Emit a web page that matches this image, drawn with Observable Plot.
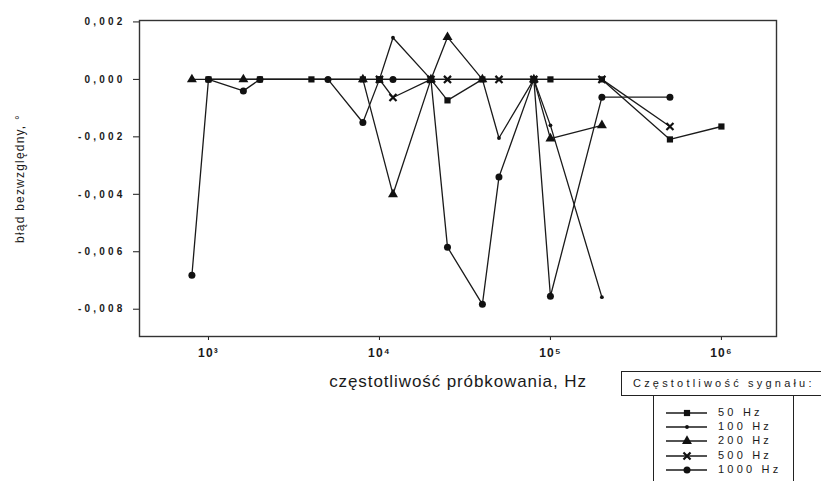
<!DOCTYPE html>
<html><head><meta charset="utf-8">
<script src="https://cdn.jsdelivr.net/npm/d3@7"></script>
<script src="https://cdn.jsdelivr.net/npm/@observablehq/plot@0.6"></script>
<style>
body{margin:0;background:#fff;font-family:"Liberation Sans",Arial,sans-serif;color:#1a1a1a;}
#wrap{position:relative;width:821px;height:481px;overflow:hidden;}
#wrap svg.chart{position:absolute;left:0;top:0;}
#lhead{position:absolute;left:621px;top:371px;width:196px;height:23px;border:1px solid #222;font-size:11px;letter-spacing:3.2px;line-height:23px;padding-left:11px;box-sizing:content-box;white-space:nowrap;overflow:hidden;}
#lbody{position:absolute;left:653px;top:395px;width:139px;height:100px;border-left:1px solid #222;border-right:1px solid #222;}
.litem{position:absolute;left:12px;height:12px;font-size:11px;letter-spacing:3.2px;}
.litem svg{position:absolute;left:0;top:0;}
.litem span{position:absolute;left:52px;top:-1px;white-space:nowrap;}
</style></head>
<body><div id="wrap"></div>
<script>
// signal frequencies (series)
const series = ["50 Hz", "100 Hz", "200 Hz", "500 Hz", "1000 Hz"];

// sampling frequency (Hz) and absolute error (deg) per series
const f50   = [1000, 2000, 4000, 8000, 10000, 20000, 25000, 40000, 80000, 100000, 200000, 500000, 1000000];
const e50   = [0, 0, 0, 0, 0, 0, -0.00073, 0, 0, 0, 0, -0.00209, -0.00164];

const f100  = [1000, 2000, 4000, 10000, 12000, 20000, 40000, 50000, 80000, 100000, 200000];
const e100  = [0, 0, 0, 0, 0.00145, 0, 0, -0.00204, 0, -0.0016, -0.00758];

const f200  = [800, 1600, 8000, 12000, 20000, 25000, 40000, 80000, 100000, 200000];
const e200  = [0, 0, 0, -0.0040, 0, 0.00147, 0, 0, -0.00206, -0.0016];

const f500  = [10000, 12000, 20000, 25000, 50000, 80000, 200000, 500000];
const e500  = [0, -0.00063, 0, 0, 0, 0, 0, -0.00164];

const f1000 = [800, 1000, 1600, 2000, 5000, 8000, 10000, 12000, 20000, 25000, 40000, 50000, 80000, 100000, 200000, 500000];
const e1000 = [-0.00682, 0, -0.0004, 0, 0, -0.0015, 0, 0, 0, -0.00584, -0.00783, -0.0034, 0, -0.00755, -0.00062, -0.00062];

// axis ticks
const yTicks = [0.002, 0, -0.002, -0.004, -0.006, -0.008];
const xTicks = [1e3, 1e4, 1e5, 1e6];
const xTickLabels = ["10³", "10⁴", "10⁵", "10⁶"];

const allF = [f50, f100, f200, f500, f1000];
const allE = [e50, e100, e200, e500, e1000];
const rows = series.flatMap((s, i) => allF[i].map((f, j) => ({series: s, f, err: allE[i][j]})));

const styles = {
  "50 Hz":   {symbol: "square",   r: 3.5, fill: "#111", stroke: "none", strokeWidth: 0},
  "100 Hz":  {symbol: "circle",   r: 1.9, fill: "#111", stroke: "none", strokeWidth: 0},
  "200 Hz":  {symbol: "triangle", r: 3.7, fill: "#111", stroke: "none", strokeWidth: 0},
  "500 Hz":  {symbol: "times",    r: 3.3, fill: "none", stroke: "#111", strokeWidth: 2.2},
  "1000 Hz": {symbol: "circle",   r: 3.5, fill: "#111", stroke: "none", strokeWidth: 0}
};

const dotMarks = series.map(s => Plot.dot(rows.filter(d => d.series === s), {
  x: "f", y: "err", symbol: styles[s].symbol, r: styles[s].r,
  fill: styles[s].fill, stroke: styles[s].stroke, strokeWidth: styles[s].strokeWidth
}));

const chart = Plot.plot({
  width: 821, height: 481,
  marginLeft: 139, marginRight: 45, marginTop: 20, marginBottom: 145,
  style: {fontFamily: "'Liberation Sans', Arial, sans-serif", fontSize: "10px", color: "#1a1a1a", background: "#fff"},
  x: {type: "log", domain: [395, 2.1e6]},
  y: {domain: [-0.00895, 0.00205]},
  marks: [
    Plot.axisY({ticks: yTicks, tickFormat: d => d.toFixed(3).replace(".", ","), tickSize: 6, tickPadding: 8,
      fontSize: 10, fontWeight: "bold", label: "błąd bezwzględny, °", labelAnchor: "center", labelArrow: "none", labelOffset: 124}),
    Plot.axisX({ticks: xTicks, tickFormat: d => xTickLabels[xTicks.indexOf(d)], tickSize: 4, tickPadding: 8,
      fontSize: 12, fontWeight: "bold", label: "częstotliwość próbkowania, Hz", labelAnchor: "center", labelArrow: "none", labelOffset: 50}),
    Plot.line(rows, {x: "f", y: "err", z: "series", stroke: "#1a1a1a", strokeWidth: 1.3}),
    ...dotMarks,
    Plot.frame({stroke: "#333", strokeWidth: 1.4})
  ]
});
chart.classList.add("chart");
const sel = d3.select(chart);
sel.selectAll('g[aria-label="y-axis tick label"]').style("letter-spacing", "3.2px");
sel.selectAll('g[aria-label="x-axis tick label"]').style("letter-spacing", "1.2px");
sel.selectAll('g[aria-label="x-axis label"] text').attr("font-size", 17).attr("font-weight", "normal").style("letter-spacing", "0.9px");
sel.selectAll('g[aria-label="y-axis label"] text').attr("font-size", 12).attr("font-weight", "normal").style("letter-spacing", "1.2px");
document.getElementById("wrap").appendChild(chart);

// legend
const wrap = d3.select("#wrap");
wrap.append("div").attr("id", "lhead").text("Częstotliwość sygnału:");
const body = wrap.append("div").attr("id", "lbody");
const rowTops = [12, 26, 40, 55, 69];
const symMap = {square: d3.symbolSquare, circle: d3.symbolCircle, triangle: d3.symbolTriangle, times: d3.symbolTimes};
series.forEach((s, i) => {
  const it = body.append("div").attr("class", "litem").style("top", rowTops[i] + "px");
  const sv = it.append("svg").attr("width", 44).attr("height", 12);
  sv.append("line").attr("x1", 0).attr("x2", 41).attr("y1", 6).attr("y2", 6).attr("stroke", "#1a1a1a").attr("stroke-width", 1.3);
  const st = styles[s];
  sv.append("path").attr("transform", "translate(21,6)")
    .attr("d", d3.symbol(symMap[st.symbol], st.r * st.r * Math.PI)())
    .attr("fill", st.fill).attr("stroke", st.stroke).attr("stroke-width", st.strokeWidth);
  it.append("span").text(s);
});
</script>
</body></html>
